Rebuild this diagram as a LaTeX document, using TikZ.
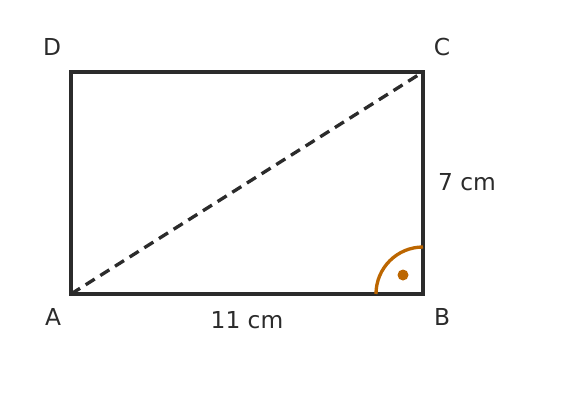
\documentclass[tikz,border=0pt]{standalone}
\usepackage{fontspec}
\setmainfont{DejaVu Sans}
\definecolor{ink}{RGB}{43,43,43}
\definecolor{ang}{RGB}{188,102,0}
\tikzset{
  edge/.style={draw=ink, line width=2.5pt},
  diag/.style={draw=ink, line width=2.5pt, dash pattern=on 8pt off 5pt},
  lbl/.style={text=ink, font=\fontsize{17.5}{21}\selectfont, inner sep=0pt},
  pt/.style={coordinate}
}
\begin{document}
\begin{tikzpicture}[x=0.75pt,y=-0.75pt]
\useasboundingbox (0,0) rectangle (575,407);
\node[pt] (A) at (71,294) {};
\node[pt] (B) at (423,294) {};
\node[pt] (C) at (423,72) {};
\node[pt] (D) at (71,72) {};
\draw[diag] (A) -- (C);
\draw[edge, line join=miter] (A) -- (B) -- (C) -- (D) -- cycle;
\draw[draw=ang, line width=2.5pt] ([xshift=-47*0.75pt]B) arc[start angle=180, end angle=90, radius=47*0.75pt];
\fill[ang] (403,275) circle[radius=5.5*0.75pt];
\node[lbl] (lD) at (52,47) {D};
\node[lbl] (lC) at (442,47) {C};
\node[lbl] (lA) at (53,317) {A};
\node[lbl] (lB) at (442,317) {B};
\node[lbl] (l7) at (467,182) {7 cm};
\node[lbl] (l11) at (247,320) {11 cm};
\end{tikzpicture}
\end{document}
